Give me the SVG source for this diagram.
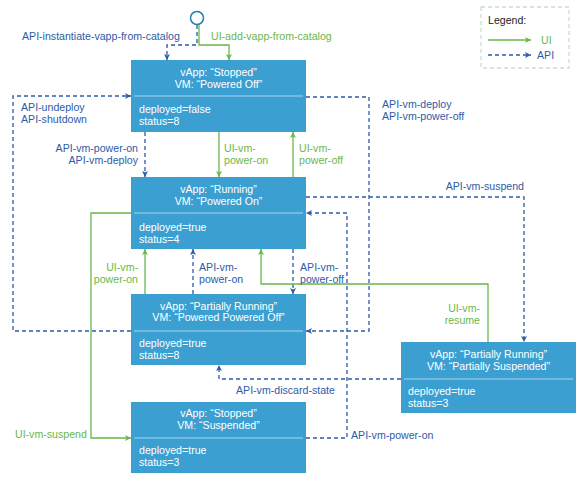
<svg xmlns="http://www.w3.org/2000/svg" width="585" height="479" viewBox="0 0 585 479">
<defs>
<style>
text{font-family:"Liberation Sans",Arial,sans-serif;font-size:10.6px}
.node rect{fill:#3b9fd1}
.node line{stroke:#a9d5ee;stroke-width:1.2}
.node text{fill:#ffffff}
.c{text-anchor:middle}
.api{fill:none;stroke:#2d5ba8;stroke-width:1.3;stroke-dasharray:4 3}
.ui{fill:none;stroke:#6ab74a;stroke-width:1.3}
.tapi{fill:#2d5ba8}
.tui{fill:#6ab74a}
.r{text-anchor:end}
</style>
<marker id="ab" markerUnits="userSpaceOnUse" markerWidth="8" markerHeight="8" refX="7" refY="4" orient="auto">
<path d="M1,1 L7,4 L1,7 L2.5,4 z" fill="#2d5ba8"/>
</marker>
<marker id="ag" markerUnits="userSpaceOnUse" markerWidth="8" markerHeight="8" refX="7" refY="4" orient="auto">
<path d="M1,1 L7,4 L1,7 L2.5,4 z" fill="#6ab74a"/>
</marker>
</defs>
<rect width="585" height="479" fill="#ffffff"/>

<g id="legend">
<rect x="481" y="7" width="88" height="61" fill="none" stroke="#c9ddd6" stroke-width="1.3" stroke-dasharray="4 3"/>
<text x="488" y="24" fill="#222222">Legend:</text>
<line x1="488" y1="40" x2="531" y2="40" class="ui" marker-end="url(#ag)"/>
<text x="541" y="44" class="tui">UI</text>
<line x1="488" y1="55" x2="531" y2="55" class="api" marker-end="url(#ab)"/>
<text x="537" y="59" class="tapi">API</text>
</g>

<g id="start">
<circle cx="197" cy="18" r="6.5" fill="#ffffff" stroke="#1f7fae" stroke-width="1.5"/>
</g>

<g id="connectors">
<path class="api" d="M197,25 V45 H167 V60" marker-end="url(#ab)"/>
<path class="ui" d="M199,25 V45 H229 V60" marker-end="url(#ag)"/>
<path class="api" d="M131,331 H13 V96 H131" marker-end="url(#ab)"/>
<path class="api" d="M145,132 V177" marker-end="url(#ab)"/>
<path class="ui" d="M219,132 V177" marker-end="url(#ag)"/>
<path class="ui" d="M293,177 V132" marker-end="url(#ag)"/>
<path class="api" d="M306,97 H369 V331 H306" marker-end="url(#ab)"/>
<path class="api" d="M306,197 H524 V342" marker-end="url(#ab)"/>
<path class="api" d="M293,249 V294" marker-end="url(#ab)"/>
<path class="ui" d="M488,342 V284 H261 V249" marker-end="url(#ag)"/>
<path class="ui" d="M145,294 V249" marker-end="url(#ag)"/>
<path class="api" d="M193,294 V249" marker-end="url(#ab)"/>
<path class="ui" d="M131,213 H91 V438 H131" marker-end="url(#ag)"/>
<path class="api" d="M401,379 H219 V365" marker-end="url(#ab)"/>
<path class="api" d="M306,438 H347 V213 H306" marker-end="url(#ab)"/>

<text x="22" y="40" class="tapi">API-instantiate-vapp-from-catalog</text>
<text x="211" y="40" class="tui">UI-add-vapp-from-catalog</text>
<text x="21" y="111" class="tapi">API-undeploy</text>
<text x="21" y="123" class="tapi">API-shutdown</text>
<text x="138" y="152" class="tapi r">API-vm-power-on</text>
<text x="138" y="164" class="tapi r">API-vm-deploy</text>
<text x="224" y="152" class="tui">UI-vm-</text>
<text x="224" y="164" class="tui">power-on</text>
<text x="299" y="152" class="tui">UI-vm-</text>
<text x="299" y="164" class="tui">power-off</text>
<text x="382" y="108" class="tapi">API-vm-deploy</text>
<text x="382" y="120" class="tapi">API-vm-power-off</text>
<text x="524" y="190" class="tapi r">API-vm-suspend</text>
<text x="138" y="271" class="tui r">UI-vm-</text>
<text x="138" y="283" class="tui r">power-on</text>
<text x="199" y="271" class="tapi">API-vm-</text>
<text x="199" y="283" class="tapi">power-on</text>
<text x="300" y="271" class="tapi">API-vm-</text>
<text x="300" y="283" class="tapi">power-off</text>
<text x="480" y="312" class="tui r">UI-vm-</text>
<text x="480" y="324" class="tui r">resume</text>
<text x="236" y="394" class="tapi">API-vm-discard-state</text>
<text x="15" y="438" class="tui">UI-vm-suspend</text>
<text x="351" y="439" class="tapi">API-vm-power-on</text>
</g>

<g id="n-stopped-off" class="node">
<rect x="131" y="60" width="175" height="72"/>
<line x1="134" y1="96" x2="303" y2="96"/>
<text x="218.5" y="76" class="c">vApp: “Stopped”</text>
<text x="218.5" y="88" class="c">VM: “Powered Off”</text>
<text x="139" y="113">deployed=false</text>
<text x="139" y="125">status=8</text>
</g>

<g id="n-running" class="node">
<rect x="131" y="177" width="175" height="72"/>
<line x1="134" y1="213" x2="303" y2="213"/>
<text x="218.5" y="193" class="c">vApp: “Running”</text>
<text x="218.5" y="205" class="c">VM: “Powered On”</text>
<text x="139" y="231">deployed=true</text>
<text x="139" y="243">status=4</text>
</g>

<g id="n-partial-off" class="node">
<rect x="131" y="294" width="175" height="71"/>
<line x1="134" y1="331" x2="303" y2="331"/>
<text x="218.5" y="310" class="c">vApp: “Partially Running”</text>
<text x="218.5" y="321" class="c">VM: “Powered Powered Off”</text>
<text x="139" y="347">deployed=true</text>
<text x="139" y="359">status=8</text>
</g>

<g id="n-partial-susp" class="node">
<rect x="401" y="342" width="175" height="71"/>
<line x1="404" y1="379" x2="573" y2="379"/>
<text x="488.5" y="358" class="c">vApp: “Partially Running”</text>
<text x="488.5" y="370" class="c">VM: “Partially Suspended”</text>
<text x="408" y="395">deployed=true</text>
<text x="408" y="407">status=3</text>
</g>

<g id="n-stopped-susp" class="node">
<rect x="131" y="402" width="175" height="71"/>
<line x1="134" y1="438" x2="303" y2="438"/>
<text x="218.5" y="417" class="c">vApp: “Stopped”</text>
<text x="218.5" y="429" class="c">VM: “Suspended”</text>
<text x="139" y="454">deployed=true</text>
<text x="139" y="466">status=3</text>
</g>
</svg>
